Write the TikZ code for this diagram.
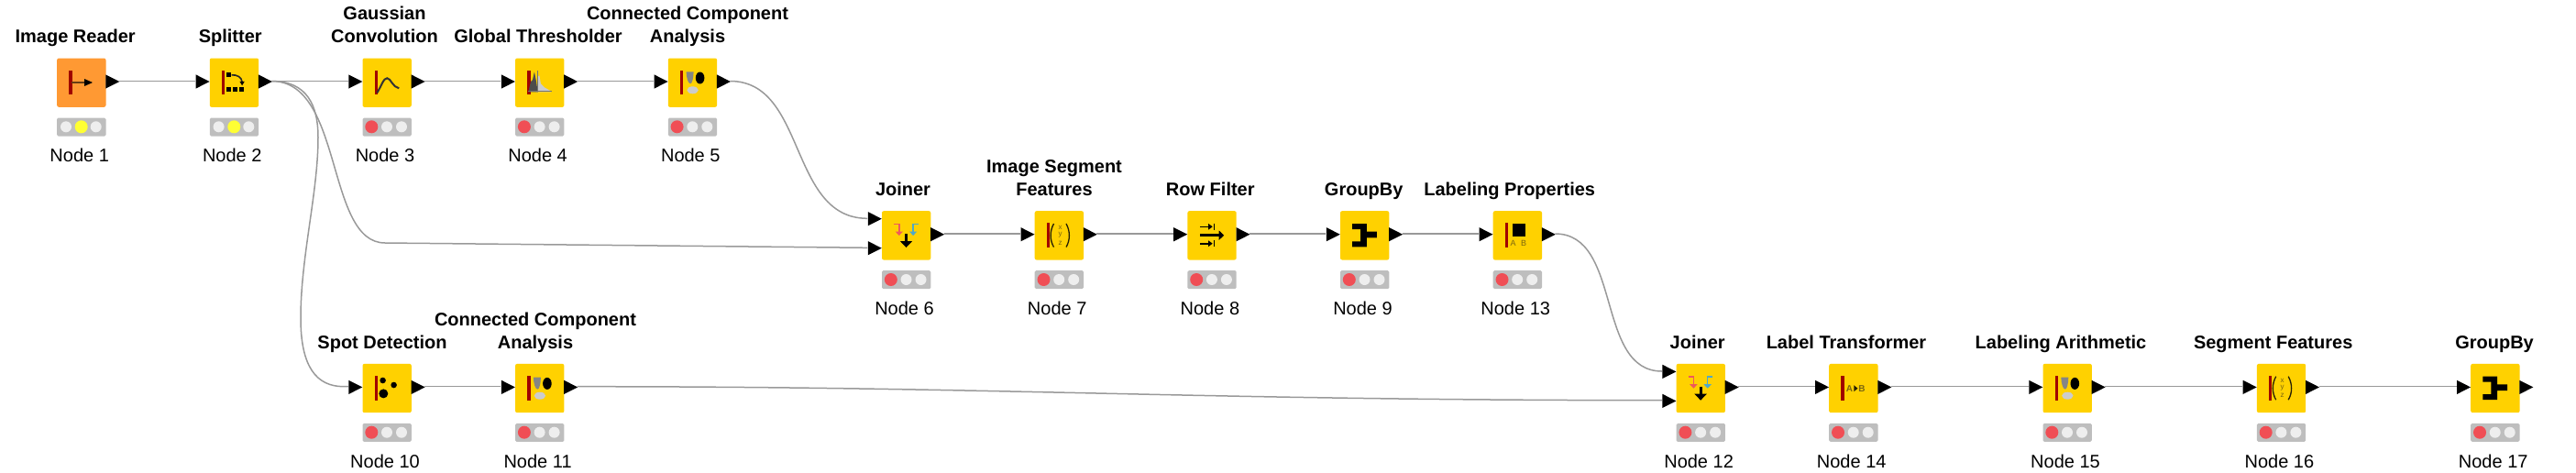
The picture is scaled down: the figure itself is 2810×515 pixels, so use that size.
\documentclass[tikz,border=0pt]{standalone}
\usepackage{fontspec}
\setmainfont{Liberation Sans}
\definecolor{kyellow}{HTML}{FFD100}
\definecolor{korange}{HTML}{FF9933}
\definecolor{kred}{HTML}{A00000}
\definecolor{ktl}{HTML}{BEBEBE}
\definecolor{koff}{HTML}{EEEEEE}
\definecolor{kstop}{HTML}{F04E55}
\definecolor{kwarn}{HTML}{FFFF33}
\definecolor{kline}{HTML}{999999}
\definecolor{kolive}{HTML}{7A6610}
\definecolor{kjred}{HTML}{EE5A5A}
\definecolor{kjblue}{HTML}{4FA8C8}
\tikzset{
  ksquare/.style={rounded corners=2pt,inner sep=0pt,minimum size=53.3pt,draw=none},
  klight/.style={rounded corners=1.5pt,inner sep=0pt,minimum width=53.3pt,minimum height=20pt,fill=ktl},
  ktitle/.style={font=\fontsize{20}{25}\bfseries\selectfont,align=center,inner sep=0pt,anchor=base},
  kname/.style={font=\fontsize{20}{25}\selectfont,inner sep=0pt,anchor=base},
  kwire/.style={draw=kline,line width=1.5pt},
  kicontext/.style={font=\fontsize{9}{9}\selectfont,text=kolive,inner sep=0pt}
}
% icons, in local coordinates of the node's square
\newcommand{\kbar}{\fill[kred] (13.4,13.4) rectangle (16.6,40);}
\newcommand{\icreader}{\kbar
  \draw[line width=2.5pt,color=black!60!korange] (16,26.7) -- (32,26.7);
  \fill[black] (30,22.7) -- (39,26.7) -- (30,30.7) -- cycle;}
\newcommand{\icsplit}{\kbar
  \fill[black] (18,16) rectangle (23,21);
  \fill[black] (18,32) rectangle (23,37);
  \fill[black] (25.3,32) rectangle (30.3,37);
  \fill[black] (32.7,32) rectangle (37.7,37);
  \draw[line width=1.6pt,color=black!85] (24,18.5) .. controls (30,18) and (35,21) .. (35.5,26);
  \fill[black] (32.8,25.5) -- (38.2,25.5) -- (35.5,30) -- cycle;}
\newcommand{\icgauss}{\kbar
  \draw[line width=2pt,color=black!80] (16,38) .. controls (21,30) and (23,22) .. (27,22) .. controls (31,22) and (33,32) .. (40,33);}
\newcommand{\ichist}{\kbar
  \fill[black!20] (23,37) -- (25,20) -- (26.5,19) -- (28,28) -- (32,32) -- (39,36) -- (39,37) -- cycle;
  \fill[black!70] (14.5,37) -- (17,26) -- (19,24) -- (21,15) -- (23,25) -- (24,32) -- (25,37) -- cycle;
  \draw[line width=0.8pt,color=black!55] (24.3,14) -- (24.3,37);
  \draw[line width=0.8pt,color=black!55] (14,36.5) -- (40,36.5);}
\newcommand{\iccomp}{\kbar
  \fill[black!48] (20,15) -- (28,15) .. controls (28,21) and (26.5,28) .. (24.5,28) .. controls (22,28) and (20,21) .. (20,15) -- cycle;
  \fill[black] (35,21.7) ellipse [x radius=4.8pt,y radius=6.5pt];
  \fill[black!20] (27,35) ellipse [x radius=6.2pt,y radius=4pt];}
\newcommand{\icjoin}{%
  \draw[line width=1.5pt,color=kjred] (13.3,14.3) -- (19,14.3) -- (19,24);
  \fill[kjred] (14.8,22.5) -- (23.2,22.5) -- (19,27) -- cycle;
  \draw[line width=1.5pt,color=kjblue] (40,14.3) -- (34.3,14.3) -- (34.3,24);
  \fill[kjblue] (30.1,22.5) -- (38.5,22.5) -- (34.3,27) -- cycle;
  \draw[line width=3pt,color=black] (26.7,25) -- (26.7,34);
  \fill[black] (20,33) -- (33.4,33) -- (26.7,40) -- cycle;}
\newcommand{\icfeat}{\kbar
  \draw[line width=1.3pt,color=black!70!kolive] (21,14) .. controls (16.5,22) and (16.5,32) .. (21,39.5);
  \draw[line width=1.3pt,color=black!70!kolive] (34.5,14) .. controls (39,22) and (39,32) .. (34.5,39.5);
  \node[kicontext,font=\fontsize{8}{8}\selectfont] at (28,18.5) {x};
  \node[kicontext,font=\fontsize{8}{8}\selectfont] at (28,26.5) {y};
  \node[kicontext,font=\fontsize{8}{8}\selectfont] at (28,35) {z};}
\newcommand{\icfilter}{%
  \draw[line width=3.5pt] (14,26.7) -- (36,26.7);
  \fill[black] (34.5,21.5) -- (40,26.7) -- (34.5,31.9) -- cycle;
  \draw[line width=1.6pt] (14,17.3) -- (24,17.3);
  \fill[black] (23,14) -- (27.5,17.3) -- (23,20.6) -- cycle;
  \draw[line width=1.6pt] (29.3,13.7) -- (29.3,21);
  \draw[line width=1.6pt] (14,35.7) -- (24,35.7);
  \fill[black] (23,32.4) -- (27.5,35.7) -- (23,39) -- cycle;
  \draw[line width=1.6pt] (29.3,32) -- (29.3,39.4);}
\newcommand{\icgroup}{%
  \fill[black] (13.3,14) -- (29,14) -- (29,22.7) -- (40,22.7) -- (40,29.3) -- (29,29.3) -- (29,39.3) -- (13.3,39.3) -- (13.3,33.3) -- (22.3,33.3) -- (22.3,20) -- (13.3,20) -- cycle;}
\newcommand{\iclabprop}{\kbar
  \fill[black] (21,14) rectangle (35,27.5);
  \node[kicontext] at (22,35.5) {A};
  \node[kicontext] at (33.5,35.5) {B};}
\newcommand{\iclabtrans}{\kbar
  \node[kicontext,font=\fontsize{10}{10}\bfseries\selectfont] at (22.5,27) {A};
  \node[kicontext,font=\fontsize{10}{10}\bfseries\selectfont] at (36,27) {B};
  \fill[black!70!kolive] (27.3,23.5) -- (31.5,27) -- (27.3,30.5) -- cycle;}
\newcommand{\icspot}{\kbar
  \fill[black] (22.3,18.3) circle [radius=3.3pt];
  \fill[black] (34.3,23.3) circle [radius=3.3pt];
  \fill[black] (23,32.7) circle [radius=5pt];}
% #1 id, #2 left, #3 top, #4 fill, #5 colour of active light, #6 position of active light (1 or 2), #7 node name, #8 icon
\newcommand{\kn}[8]{%
  \node[ksquare,fill=#4,anchor=north west] (#1) at (#2,#3) {};
  \begin{scope}[shift={(#2,#3)}]
    #8
    \node[klight,anchor=north west] (#1-light) at (0,65) {};
    \fill[koff] (10,75) circle [radius=6pt];
    \fill[koff] (26.7,75) circle [radius=6pt];
    \fill[koff] (42.7,75) circle [radius=6pt];
    \ifnum#6=1 \fill[#5] (10,75) circle [radius=7pt];\else \fill[#5] (26.7,75) circle [radius=7pt];\fi
    \node[kname] (#1-name) at (24.7,113.4) {#7};
  \end{scope}}
% #1 coordinate name, #2 tip x of the triangle at the node edge, #3 triangle centre y, #4 wire y
\newcommand{\kin}[4]{%
  \fill[black] (#2-15,#3-7.6) -- (#2,#3) -- (#2-15,#3+7.6) -- cycle;
  \coordinate (#1) at (#2-15.5,#4);}
\newcommand{\kout}[4]{%
  \fill[black] (#2,#3-7.6) -- (#2+15,#3) -- (#2,#3+7.6) -- cycle;
  \coordinate (#1) at (#2+14.5,#4);}
\begin{document}
\begin{tikzpicture}[x=1pt,y=-1pt]
\useasboundingbox (0,0) rectangle (2810,515);
% row 1
\kn{a1}{62}{63.3}{korange}{kwarn}{2}{Node 1}{\icreader}
\kn{a2}{228.6}{63.3}{kyellow}{kwarn}{2}{Node 2}{\icsplit}
\kn{a3}{395.3}{63.3}{kyellow}{kstop}{1}{Node 3}{\icgauss}
\kn{a4}{561.9}{63.3}{kyellow}{kstop}{1}{Node 4}{\ichist}
\kn{a5}{728.6}{63.3}{kyellow}{kstop}{1}{Node 5}{\iccomp}
% row 2
\kn{a6}{961.8}{230}{kyellow}{kstop}{1}{Node 6}{\icjoin}
\kn{a7}{1128.5}{230}{kyellow}{kstop}{1}{Node 7}{\icfeat}
\kn{a8}{1295.2}{230}{kyellow}{kstop}{1}{Node 8}{\icfilter}
\kn{a9}{1461.8}{230}{kyellow}{kstop}{1}{Node 9}{\icgroup}
\kn{a13}{1628.5}{230}{kyellow}{kstop}{1}{Node 13}{\iclabprop}
% row 3
\kn{a10}{395.3}{396.7}{kyellow}{kstop}{1}{Node 10}{\icspot}
\kn{a11}{561.9}{396.7}{kyellow}{kstop}{1}{Node 11}{\iccomp}
\kn{a12}{1828.4}{396.7}{kyellow}{kstop}{1}{Node 12}{\icjoin}
\kn{a14}{1995}{396.7}{kyellow}{kstop}{1}{Node 14}{\iclabtrans}
\kn{a15}{2228.3}{396.7}{kyellow}{kstop}{1}{Node 15}{\iccomp}
\kn{a16}{2461.7}{396.7}{kyellow}{kstop}{1}{Node 16}{\icfeat}
\kn{a17}{2695}{396.7}{kyellow}{kstop}{1}{Node 17}{\icgroup}
% titles
\node[ktitle] (t1) at (82.2,46.7) {Image Reader};
\node[ktitle] (t2) at (251.2,46.7) {Splitter};
\node[ktitle] (t3) at (419.5,46.7) {Gaussian\\Convolution};
\node[ktitle] (t4) at (587,46.7) {Global Thresholder};
\node[ktitle] (t5) at (750,46.7) {Connected Component\\Analysis};
\node[ktitle] (t6) at (985,213.4) {Joiner};
\node[ktitle] (t7) at (1150,213.4) {Image Segment\\Features};
\node[ktitle] (t8) at (1320.3,213.4) {Row Filter};
\node[ktitle] (t9) at (1487.7,213.4) {GroupBy};
\node[ktitle] (t13) at (1646.7,213.4) {Labeling Properties};
\node[ktitle] (t10) at (417,380) {Spot Detection};
\node[ktitle] (t11) at (584,380) {Connected Component\\Analysis};
\node[ktitle] (t12) at (1851.7,380) {Joiner};
\node[ktitle] (t14) at (2014,380) {Label Transformer};
\node[ktitle] (t15) at (2248,380) {Labeling Arithmetic};
\node[ktitle] (t16) at (2479.7,380) {Segment Features};
\node[ktitle] (t17) at (2721,380) {GroupBy};
% ports
\kout{o1}{115.3}{89}{88.5}
\kin{i2}{228.6}{89}{88.5}\kout{o2}{281.9}{89}{88.5}
\kin{i3}{395.3}{89}{88.5}\kout{o3}{448.6}{89}{88.5}
\kin{i4}{561.9}{89}{88.5}\kout{o4}{615.2}{89}{88.5}
\kin{i5}{728.6}{89}{88.5}\kout{o5}{781.9}{89}{88.5}
\kin{i6a}{961.8}{238.7}{238.3}\kin{i6b}{961.8}{270.7}{270.3}\kout{o6}{1015.1}{255.7}{255}
\kin{i7}{1128.5}{255.7}{255}\kout{o7}{1181.8}{255.7}{255}
\kin{i8}{1295.2}{255.7}{255}\kout{o8}{1348.5}{255.7}{255}
\kin{i9}{1461.8}{255.7}{255}\kout{o9}{1515.1}{255.7}{255}
\kin{i13}{1628.5}{255.7}{255}\kout{o13}{1681.8}{255.7}{255}
\kin{i10}{395.3}{422.4}{421.7}\kout{o10}{448.6}{422.4}{421.7}
\kin{i11}{561.9}{422.4}{421.7}\kout{o11}{615.2}{422.4}{421.7}
\kin{i12a}{1828.4}{405.4}{405}\kin{i12b}{1828.4}{437.4}{436.7}\kout{o12}{1881.7}{422.4}{421.7}
\kin{i14}{1995}{422.4}{421.7}\kout{o14}{2048.3}{422.4}{421.7}
\kin{i15}{2228.3}{422.4}{421.7}\kout{o15}{2281.6}{422.4}{421.7}
\kin{i16}{2461.7}{422.4}{421.7}\kout{o16}{2515}{422.4}{421.7}
\kin{i17}{2695}{422.4}{421.7}\kout{o17}{2748.3}{422.4}{421.7}
% connectors
\draw[kwire] (o1) -- (i2);
\draw[kwire] (o2) -- (i3);
\draw[kwire] (o3) -- (i4);
\draw[kwire] (o4) -- (i5);
\draw[kwire] (o2) .. controls (375,88.5) and (355,265) .. (420,265) -- (i6b);
\draw[kwire] (o2) .. controls (335,88.5) and (347,115) .. (347,150) .. controls (347,210) and (328,280) .. (328,347) .. controls (328,400) and (345,421.7) .. (375,421.7) -- (i10);
\draw[kwire] (o5) .. controls (880,88.5) and (860,238.3) .. (i6a);
\draw[kwire] (o6) -- (i7);
\draw[kwire] (o7) -- (i8);
\draw[kwire] (o8) -- (i9);
\draw[kwire] (o9) -- (i13);
\draw[kwire] (o10) -- (i11);
\draw[kwire] (o11) .. controls (1100,421.7) and (1300,436.7) .. (i12b);
\draw[kwire] (o13) .. controls (1770,255) and (1740,405) .. (i12a);
\draw[kwire] (o12) -- (i14);
\draw[kwire] (o14) -- (i15);
\draw[kwire] (o15) -- (i16);
\draw[kwire] (o16) -- (i17);
\end{tikzpicture}
\end{document}
